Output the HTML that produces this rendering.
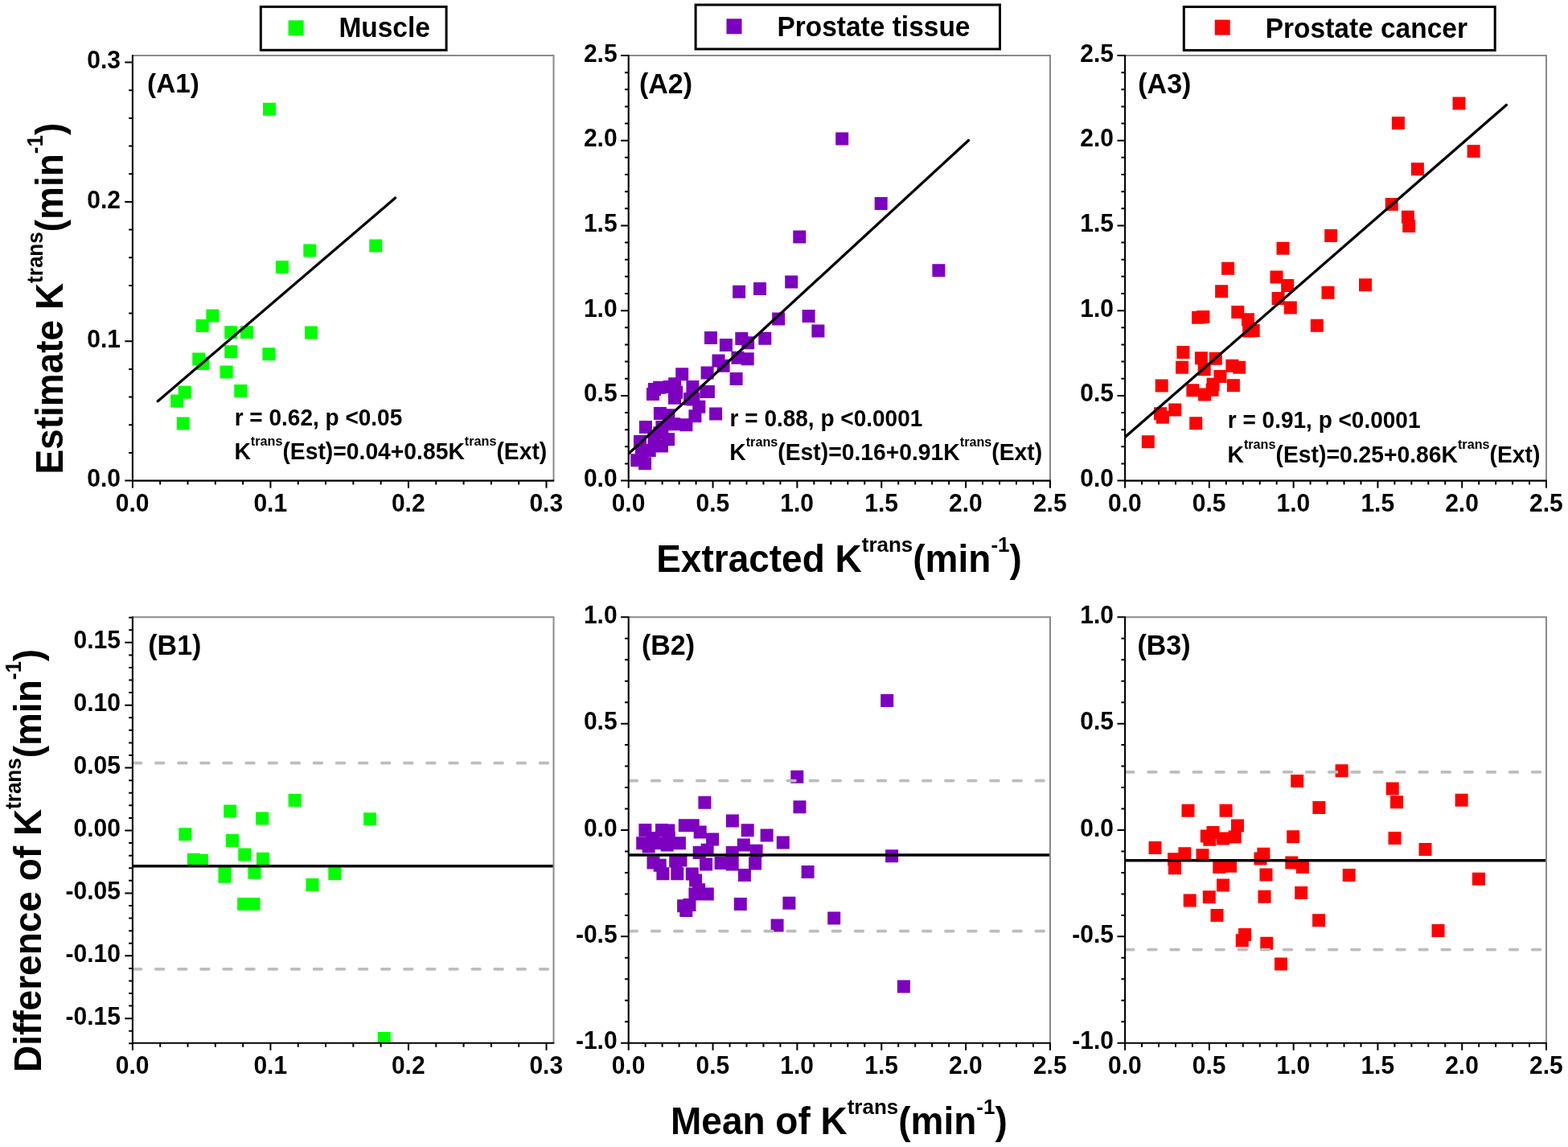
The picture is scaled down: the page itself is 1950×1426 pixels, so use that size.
<!DOCTYPE html>
<html lang="en"><head><meta charset="utf-8"><title>Ktrans correlation and Bland-Altman plots</title>
<style>html,body{margin:0;padding:0;background:#fff}svg{display:block}text{font-family:"Liberation Sans", Arial, sans-serif;font-weight:bold;fill:#000}</style></head><body>
<svg width="1950" height="1426" viewBox="0 0 1950 1426">
<rect width="1950" height="1426" fill="#fff"/>
<g id="A1">
<clipPath id="cA1"><rect x="164.9" y="69" width="523.6" height="528.6"/></clipPath>
<path clip-path="url(#cA1)" d="M327 127.8h16v16h-16zM459.3 297.6h16v16h-16zM377.3 303.6h16v16h-16zM342.9 324.1h16v16h-16zM256.4 384.4h16v16h-16zM243.7 396.9h16v16h-16zM279.2 405.3h16v16h-16zM298.9 404.9h16v16h-16zM378.9 405.5h16v16h-16zM279.2 429.3h16v16h-16zM326.4 432.2h16v16h-16zM239.2 438.4h16v16h-16zM244.1 443.9h16v16h-16zM273.6 454.4h16v16h-16zM291.3 477.9h16v16h-16zM221.7 479.8h16v16h-16zM212.1 490.5h16v16h-16zM219.7 518.6h16v16h-16z" fill="#00ff00"/>
<path clip-path="url(#cA1)" d="M196.3 498.7L491.6 246.1" stroke="#000" stroke-width="3.3" stroke-linecap="round" fill="none"/>
<path d="M164.9 69H688.5V597.6" fill="none" stroke="#8a8a8a" stroke-width="2"/>
<path d="M164.9 597.6h-9.6M164.9 562.93h-4.7M164.9 528.27h-4.7M164.9 493.6h-4.7M164.9 458.94h-4.7M164.9 424.27h-9.6M164.9 389.6h-4.7M164.9 354.94h-4.7M164.9 320.27h-4.7M164.9 285.61h-4.7M164.9 250.94h-9.6M164.9 216.27h-4.7M164.9 181.61h-4.7M164.9 146.94h-4.7M164.9 112.28h-4.7M164.9 77.61h-9.6M164.9 597.6v9.1M199.21 597.6v5M233.51 597.6v5M267.82 597.6v5M302.12 597.6v5M336.43 597.6v9.1M370.74 597.6v5M405.04 597.6v5M439.35 597.6v5M473.65 597.6v5M507.96 597.6v9.1M542.27 597.6v5M576.57 597.6v5M610.88 597.6v5M645.18 597.6v5M679.49 597.6v9.1" fill="none" stroke="#000" stroke-width="2"/>
<path d="M164.9 68.3V597.6H689.2" fill="none" stroke="#000" stroke-width="2.1" stroke-linejoin="miter"/>
<text transform="translate(149.9 605.2) scale(1 1.025)" font-size="30" text-anchor="end">0.0</text>
<text transform="translate(149.9 431.87) scale(1 1.025)" font-size="30" text-anchor="end">0.1</text>
<text transform="translate(149.9 258.54) scale(1 1.025)" font-size="30" text-anchor="end">0.2</text>
<text transform="translate(149.9 85.21) scale(1 1.025)" font-size="30" text-anchor="end">0.3</text>
<text transform="translate(164.7 635.8) scale(1 1.025)" font-size="30" text-anchor="middle">0.0</text>
<text transform="translate(336.23 635.8) scale(1 1.025)" font-size="30" text-anchor="middle">0.1</text>
<text transform="translate(507.76 635.8) scale(1 1.025)" font-size="30" text-anchor="middle">0.2</text>
<text transform="translate(679.29 635.8) scale(1 1.025)" font-size="30" text-anchor="middle">0.3</text>
</g>
<g id="A2">
<clipPath id="cA2"><rect x="781.7" y="69" width="524.3" height="528.6"/></clipPath>
<path clip-path="url(#cA2)" d="M1039.2 164.4h16v16h-16zM1087.7 245h16v16h-16zM986.3 286.6h16v16h-16zM1159.4 328.2h16v16h-16zM976.2 342.5h16v16h-16zM937 351.1h16v16h-16zM911.1 354.7h16v16h-16zM997.6 385h16v16h-16zM960.2 388.6h16v16h-16zM1009.4 403.5h16v16h-16zM876 411.9h16v16h-16zM943.3 412.8h16v16h-16zM914.3 413h16v16h-16zM922.1 418.2h16v16h-16zM894.9 421h16v16h-16zM909.5 436.8h16v16h-16zM921.7 438.2h16v16h-16zM885.5 440.6h16v16h-16zM891.6 446.7h16v16h-16zM871.6 455.5h16v16h-16zM907.6 462.9h16v16h-16zM840.2 457.2h16v16h-16zM804 481.9h16v16h-16zM805.9 476.1h16v16h-16zM812.2 473.7h16v16h-16zM824.6 473h16v16h-16zM831.2 469.2h16v16h-16zM831 486.8h16v16h-16zM833.2 479.8h16v16h-16zM853.4 473h16v16h-16zM872.9 478.9h16v16h-16zM861.3 497.7h16v16h-16zM856.4 509.3h16v16h-16zM850.1 488h16v16h-16zM854.2 488.6h16v16h-16zM882.1 506.6h16v16h-16zM812.9 506.1h16v16h-16zM823.4 508.3h16v16h-16zM845.4 520.2h16v16h-16zM830.2 519.3h16v16h-16zM794.9 523.1h16v16h-16zM812.4 530.2h16v16h-16zM823.1 538.3h16v16h-16zM814.9 546.5h16v16h-16zM788 540.9h16v16h-16zM799.7 551.9h16v16h-16zM794.1 568.3h16v16h-16zM784.2 564.3h16v16h-16zM790 553.9h16v16h-16zM805.6 536.6h16v16h-16zM815.4 523.1h16v16h-16zM870.4 478.9h16v16h-16z" fill="#7d00c0"/>
<path clip-path="url(#cA2)" d="M781.7 564L1204.5 174.5" stroke="#000" stroke-width="3.3" stroke-linecap="round" fill="none"/>
<path d="M781.7 69H1306V597.6" fill="none" stroke="#8a8a8a" stroke-width="2"/>
<path d="M781.7 597.6h-9.6M781.7 576.46h-4.7M781.7 555.31h-4.7M781.7 534.17h-4.7M781.7 513.02h-4.7M781.7 491.88h-9.6M781.7 470.74h-4.7M781.7 449.59h-4.7M781.7 428.45h-4.7M781.7 407.3h-4.7M781.7 386.16h-9.6M781.7 365.02h-4.7M781.7 343.87h-4.7M781.7 322.73h-4.7M781.7 301.58h-4.7M781.7 280.44h-9.6M781.7 259.3h-4.7M781.7 238.15h-4.7M781.7 217.01h-4.7M781.7 195.86h-4.7M781.7 174.72h-9.6M781.7 153.58h-4.7M781.7 132.43h-4.7M781.7 111.29h-4.7M781.7 90.14h-4.7M781.7 69h-9.6M781.7 597.6v9.1M802.67 597.6v5M823.64 597.6v5M844.61 597.6v5M865.58 597.6v5M886.55 597.6v9.1M907.52 597.6v5M928.49 597.6v5M949.46 597.6v5M970.43 597.6v5M991.4 597.6v9.1M1012.37 597.6v5M1033.34 597.6v5M1054.31 597.6v5M1075.28 597.6v5M1096.25 597.6v9.1M1117.22 597.6v5M1138.19 597.6v5M1159.16 597.6v5M1180.13 597.6v5M1201.1 597.6v9.1M1222.07 597.6v5M1243.04 597.6v5M1264.01 597.6v5M1284.98 597.6v5M1305.95 597.6v9.1" fill="none" stroke="#000" stroke-width="2"/>
<path d="M781.7 68.3V597.6H1306.7" fill="none" stroke="#000" stroke-width="2.1" stroke-linejoin="miter"/>
<text transform="translate(767.6 605.2) scale(1 1.025)" font-size="30" text-anchor="end">0.0</text>
<text transform="translate(767.6 499.48) scale(1 1.025)" font-size="30" text-anchor="end">0.5</text>
<text transform="translate(767.6 393.76) scale(1 1.025)" font-size="30" text-anchor="end">1.0</text>
<text transform="translate(767.6 288.04) scale(1 1.025)" font-size="30" text-anchor="end">1.5</text>
<text transform="translate(767.6 182.32) scale(1 1.025)" font-size="30" text-anchor="end">2.0</text>
<text transform="translate(767.6 76.6) scale(1 1.025)" font-size="30" text-anchor="end">2.5</text>
<text transform="translate(781.5 635.8) scale(1 1.025)" font-size="30" text-anchor="middle">0.0</text>
<text transform="translate(886.35 635.8) scale(1 1.025)" font-size="30" text-anchor="middle">0.5</text>
<text transform="translate(991.2 635.8) scale(1 1.025)" font-size="30" text-anchor="middle">1.0</text>
<text transform="translate(1096.05 635.8) scale(1 1.025)" font-size="30" text-anchor="middle">1.5</text>
<text transform="translate(1200.9 635.8) scale(1 1.025)" font-size="30" text-anchor="middle">2.0</text>
<text transform="translate(1305.75 635.8) scale(1 1.025)" font-size="30" text-anchor="middle">2.5</text>
</g>
<g id="A3">
<clipPath id="cA3"><rect x="1399.1" y="69" width="523.9" height="528.6"/></clipPath>
<path clip-path="url(#cA3)" d="M1806.5 120.4h16v16h-16zM1730.9 145h16v16h-16zM1824.6 179.9h16v16h-16zM1754.9 202.2h16v16h-16zM1722.7 246h16v16h-16zM1742.9 261.8h16v16h-16zM1744.2 272.9h16v16h-16zM1647.2 285.1h16v16h-16zM1587.5 300.8h16v16h-16zM1519.1 325.7h16v16h-16zM1579.5 336.6h16v16h-16zM1593.2 347.1h16v16h-16zM1690 346.3h16v16h-16zM1511.1 354.3h16v16h-16zM1643.5 355.8h16v16h-16zM1581.6 363.1h16v16h-16zM1596.8 374.5h16v16h-16zM1531.3 380h16v16h-16zM1482.1 386.7h16v16h-16zM1488.4 386.1h16v16h-16zM1544 389.2h16v16h-16zM1629.8 396.8h16v16h-16zM1545.2 403.5h16v16h-16zM1550.7 402.9h16v16h-16zM1463.4 430h16v16h-16zM1485.9 437.2h16v16h-16zM1503.8 437.8h16v16h-16zM1462.1 448.8h16v16h-16zM1489.7 451.3h16v16h-16zM1524.4 446.7h16v16h-16zM1533.2 448.8h16v16h-16zM1509.5 459.9h16v16h-16zM1436.7 471.5h16v16h-16zM1525.9 471.3h16v16h-16zM1500.6 469.8h16v16h-16zM1475.4 477.2h16v16h-16zM1499.6 476.7h16v16h-16zM1490.1 482.4h16v16h-16zM1453.3 501.4h16v16h-16zM1435 506.2h16v16h-16zM1437.9 510.8h16v16h-16zM1479.2 518.2h16v16h-16zM1419.8 541.3h16v16h-16z" fill="#ff0000"/>
<path clip-path="url(#cA3)" d="M1399.1 543.4L1873.4 130.5" stroke="#000" stroke-width="3.3" stroke-linecap="round" fill="none"/>
<path d="M1399.1 69H1923V597.6" fill="none" stroke="#8a8a8a" stroke-width="2"/>
<path d="M1399.1 597.6h-9.6M1399.1 576.46h-4.7M1399.1 555.31h-4.7M1399.1 534.17h-4.7M1399.1 513.02h-4.7M1399.1 491.88h-9.6M1399.1 470.74h-4.7M1399.1 449.59h-4.7M1399.1 428.45h-4.7M1399.1 407.3h-4.7M1399.1 386.16h-9.6M1399.1 365.02h-4.7M1399.1 343.87h-4.7M1399.1 322.73h-4.7M1399.1 301.58h-4.7M1399.1 280.44h-9.6M1399.1 259.3h-4.7M1399.1 238.15h-4.7M1399.1 217.01h-4.7M1399.1 195.86h-4.7M1399.1 174.72h-9.6M1399.1 153.58h-4.7M1399.1 132.43h-4.7M1399.1 111.29h-4.7M1399.1 90.14h-4.7M1399.1 69h-9.6M1399.1 597.6v9.1M1420.06 597.6v5M1441.01 597.6v5M1461.97 597.6v5M1482.92 597.6v5M1503.88 597.6v9.1M1524.84 597.6v5M1545.79 597.6v5M1566.75 597.6v5M1587.7 597.6v5M1608.66 597.6v9.1M1629.62 597.6v5M1650.57 597.6v5M1671.53 597.6v5M1692.48 597.6v5M1713.44 597.6v9.1M1734.4 597.6v5M1755.35 597.6v5M1776.31 597.6v5M1797.26 597.6v5M1818.22 597.6v9.1M1839.18 597.6v5M1860.13 597.6v5M1881.09 597.6v5M1902.04 597.6v5M1923 597.6v9.1" fill="none" stroke="#000" stroke-width="2"/>
<path d="M1399.1 68.3V597.6H1923.7" fill="none" stroke="#000" stroke-width="2.1" stroke-linejoin="miter"/>
<text transform="translate(1385 605.2) scale(1 1.025)" font-size="30" text-anchor="end">0.0</text>
<text transform="translate(1385 499.48) scale(1 1.025)" font-size="30" text-anchor="end">0.5</text>
<text transform="translate(1385 393.76) scale(1 1.025)" font-size="30" text-anchor="end">1.0</text>
<text transform="translate(1385 288.04) scale(1 1.025)" font-size="30" text-anchor="end">1.5</text>
<text transform="translate(1385 182.32) scale(1 1.025)" font-size="30" text-anchor="end">2.0</text>
<text transform="translate(1385 76.6) scale(1 1.025)" font-size="30" text-anchor="end">2.5</text>
<text transform="translate(1398.9 635.8) scale(1 1.025)" font-size="30" text-anchor="middle">0.0</text>
<text transform="translate(1503.68 635.8) scale(1 1.025)" font-size="30" text-anchor="middle">0.5</text>
<text transform="translate(1608.46 635.8) scale(1 1.025)" font-size="30" text-anchor="middle">1.0</text>
<text transform="translate(1713.24 635.8) scale(1 1.025)" font-size="30" text-anchor="middle">1.5</text>
<text transform="translate(1818.02 635.8) scale(1 1.025)" font-size="30" text-anchor="middle">2.0</text>
<text transform="translate(1922.8 635.8) scale(1 1.025)" font-size="30" text-anchor="middle">2.5</text>
</g>
<g id="B1">
<clipPath id="cB1"><rect x="164.9" y="767.3" width="523.6" height="529.4"/></clipPath>
<path clip-path="url(#cB1)" d="M358.6 986.9h16v16h-16zM278.2 1000.4h16v16h-16zM318.2 1009.4h16v16h-16zM452.1 1010.3h16v16h-16zM222.3 1029.2h16v16h-16zM281 1037h16v16h-16zM296.3 1054.5h16v16h-16zM318.9 1059.7h16v16h-16zM232.8 1060.8h16v16h-16zM242.9 1061.8h16v16h-16zM271.5 1077.8h16v16h-16zM271.5 1081.8h16v16h-16zM308.5 1076.8h16v16h-16zM408.3 1078.2h16v16h-16zM380.5 1091.9h16v16h-16zM295.1 1116.1h16v16h-16zM307.5 1116.1h16v16h-16zM469.8 1282.9h16v16h-16z" fill="#00ff00"/>
<path d="M165.8 948.7H686.5" stroke="#bdbdbd" stroke-width="3.8" stroke-linecap="round" stroke-dasharray="9.6 18.5" fill="none"/>
<path d="M165.8 1204.8H686.5" stroke="#bdbdbd" stroke-width="3.8" stroke-linecap="round" stroke-dasharray="9.6 18.5" fill="none"/>
<path d="M164.9 1076.8H688.5" stroke="#000" stroke-width="3.4" fill="none"/>
<path d="M164.9 767.3H688.5V1296.7" fill="none" stroke="#8a8a8a" stroke-width="2"/>
<path d="M164.9 1297.36h-4.7M164.9 1281.78h-4.7M164.9 1266.2h-9.6M164.9 1250.62h-4.7M164.9 1235.04h-4.7M164.9 1219.46h-4.7M164.9 1203.88h-4.7M164.9 1188.3h-9.6M164.9 1172.72h-4.7M164.9 1157.14h-4.7M164.9 1141.56h-4.7M164.9 1125.98h-4.7M164.9 1110.4h-9.6M164.9 1094.82h-4.7M164.9 1079.24h-4.7M164.9 1063.66h-4.7M164.9 1048.08h-4.7M164.9 1032.5h-9.6M164.9 1016.92h-4.7M164.9 1001.34h-4.7M164.9 985.76h-4.7M164.9 970.18h-4.7M164.9 954.6h-9.6M164.9 939.02h-4.7M164.9 923.44h-4.7M164.9 907.86h-4.7M164.9 892.28h-4.7M164.9 876.7h-9.6M164.9 861.12h-4.7M164.9 845.54h-4.7M164.9 829.96h-4.7M164.9 814.38h-4.7M164.9 798.8h-9.6M164.9 783.22h-4.7M164.9 767.64h-4.7M164.9 1296.7v9.1M199.21 1296.7v5M233.51 1296.7v5M267.82 1296.7v5M302.12 1296.7v5M336.43 1296.7v9.1M370.74 1296.7v5M405.04 1296.7v5M439.35 1296.7v5M473.65 1296.7v5M507.96 1296.7v9.1M542.27 1296.7v5M576.57 1296.7v5M610.88 1296.7v5M645.18 1296.7v5M679.49 1296.7v9.1" fill="none" stroke="#000" stroke-width="2"/>
<path d="M164.9 766.6V1296.7H689.2" fill="none" stroke="#000" stroke-width="2.1" stroke-linejoin="miter"/>
<text transform="translate(149.9 1273.8) scale(1 1.025)" font-size="30" text-anchor="end">-0.15</text>
<text transform="translate(149.9 1195.9) scale(1 1.025)" font-size="30" text-anchor="end">-0.10</text>
<text transform="translate(149.9 1118) scale(1 1.025)" font-size="30" text-anchor="end">-0.05</text>
<text transform="translate(149.9 1040.1) scale(1 1.025)" font-size="30" text-anchor="end">0.00</text>
<text transform="translate(149.9 962.2) scale(1 1.025)" font-size="30" text-anchor="end">0.05</text>
<text transform="translate(149.9 884.3) scale(1 1.025)" font-size="30" text-anchor="end">0.10</text>
<text transform="translate(149.9 806.4) scale(1 1.025)" font-size="30" text-anchor="end">0.15</text>
<text transform="translate(164.7 1334.9) scale(1 1.025)" font-size="30" text-anchor="middle">0.0</text>
<text transform="translate(336.23 1334.9) scale(1 1.025)" font-size="30" text-anchor="middle">0.1</text>
<text transform="translate(507.76 1334.9) scale(1 1.025)" font-size="30" text-anchor="middle">0.2</text>
<text transform="translate(679.29 1334.9) scale(1 1.025)" font-size="30" text-anchor="middle">0.3</text>
</g>
<g id="B2">
<clipPath id="cB2"><rect x="781.7" y="767.3" width="524.3" height="529.4"/></clipPath>
<path clip-path="url(#cB2)" d="M1095.2 863.1h16v16h-16zM983.3 957.8h16v16h-16zM868.4 989.8h16v16h-16zM986.5 995.3h16v16h-16zM902.9 1012.5h16v16h-16zM921.7 1024.3h16v16h-16zM945.6 1030.4h16v16h-16zM965.8 1039.5h16v16h-16zM1101.1 1056.3h16v16h-16zM996.6 1076.1h16v16h-16zM912.8 1116.1h16v16h-16zM973.4 1114.8h16v16h-16zM1029.2 1133.4h16v16h-16zM916.8 1042.4h16v16h-16zM932.6 1049.8h16v16h-16zM902.7 1051.9h16v16h-16zM931.1 1065.6h16v16h-16zM902.7 1066.6h16v16h-16zM888.6 1065.1h16v16h-16zM917.9 1079.9h16v16h-16zM878.1 1035.5h16v16h-16zM862.7 1026.6h16v16h-16zM853.7 1018.2h16v16h-16zM843.8 1018.2h16v16h-16zM871.6 1048.7h16v16h-16zM861.7 1051.9h16v16h-16zM870.1 1066.6h16v16h-16zM794.4 1023.9h16v16h-16zM815 1023.9h16v16h-16zM823.4 1024.5h16v16h-16zM791.2 1040.3h16v16h-16zM798.6 1044.5h16v16h-16zM809.1 1040.3h16v16h-16zM821.7 1042.4h16v16h-16zM836.9 1040.3h16v16h-16zM823.8 1034h16v16h-16zM803.8 1034h16v16h-16zM804.5 1064.5h16v16h-16zM812.7 1067.7h16v16h-16zM816.4 1078.2h16v16h-16zM832.2 1062.4h16v16h-16zM838.5 1061.4h16v16h-16zM834.3 1078.2h16v16h-16zM852.8 1078.6h16v16h-16zM857.1 1086.6h16v16h-16zM861.1 1098.2h16v16h-16zM856.4 1103.4h16v16h-16zM871.8 1103.4h16v16h-16zM842.1 1118.2h16v16h-16zM849.5 1117.1h16v16h-16zM845.3 1124h16v16h-16zM958.6 1142.4h16v16h-16zM1115.9 1218.6h16v16h-16z" fill="#7d00c0"/>
<path d="M782.6 970.6H1304" stroke="#bdbdbd" stroke-width="3.8" stroke-linecap="round" stroke-dasharray="9.6 18.5" fill="none"/>
<path d="M782.6 1157.6H1304" stroke="#bdbdbd" stroke-width="3.8" stroke-linecap="round" stroke-dasharray="9.6 18.5" fill="none"/>
<path d="M781.7 1063H1306" stroke="#000" stroke-width="3.4" fill="none"/>
<path d="M781.7 767.3H1306V1296.7" fill="none" stroke="#8a8a8a" stroke-width="2"/>
<path d="M781.7 1296.7h-9.6M781.7 1270.23h-4.7M781.7 1243.76h-4.7M781.7 1217.29h-4.7M781.7 1190.82h-4.7M781.7 1164.35h-9.6M781.7 1137.88h-4.7M781.7 1111.41h-4.7M781.7 1084.94h-4.7M781.7 1058.47h-4.7M781.7 1032h-9.6M781.7 1005.53h-4.7M781.7 979.06h-4.7M781.7 952.59h-4.7M781.7 926.12h-4.7M781.7 899.65h-9.6M781.7 873.18h-4.7M781.7 846.71h-4.7M781.7 820.24h-4.7M781.7 793.77h-4.7M781.7 767.3h-9.6M781.7 1296.7v9.1M802.67 1296.7v5M823.64 1296.7v5M844.61 1296.7v5M865.58 1296.7v5M886.55 1296.7v9.1M907.52 1296.7v5M928.49 1296.7v5M949.46 1296.7v5M970.43 1296.7v5M991.4 1296.7v9.1M1012.37 1296.7v5M1033.34 1296.7v5M1054.31 1296.7v5M1075.28 1296.7v5M1096.25 1296.7v9.1M1117.22 1296.7v5M1138.19 1296.7v5M1159.16 1296.7v5M1180.13 1296.7v5M1201.1 1296.7v9.1M1222.07 1296.7v5M1243.04 1296.7v5M1264.01 1296.7v5M1284.98 1296.7v5M1305.95 1296.7v9.1" fill="none" stroke="#000" stroke-width="2"/>
<path d="M781.7 766.6V1296.7H1306.7" fill="none" stroke="#000" stroke-width="2.1" stroke-linejoin="miter"/>
<text transform="translate(767.6 1304.3) scale(1 1.025)" font-size="30" text-anchor="end">-1.0</text>
<text transform="translate(767.6 1171.95) scale(1 1.025)" font-size="30" text-anchor="end">-0.5</text>
<text transform="translate(767.6 1039.6) scale(1 1.025)" font-size="30" text-anchor="end">0.0</text>
<text transform="translate(767.6 907.25) scale(1 1.025)" font-size="30" text-anchor="end">0.5</text>
<text transform="translate(767.6 774.9) scale(1 1.025)" font-size="30" text-anchor="end">1.0</text>
<text transform="translate(781.5 1334.9) scale(1 1.025)" font-size="30" text-anchor="middle">0.0</text>
<text transform="translate(886.35 1334.9) scale(1 1.025)" font-size="30" text-anchor="middle">0.5</text>
<text transform="translate(991.2 1334.9) scale(1 1.025)" font-size="30" text-anchor="middle">1.0</text>
<text transform="translate(1096.05 1334.9) scale(1 1.025)" font-size="30" text-anchor="middle">1.5</text>
<text transform="translate(1200.9 1334.9) scale(1 1.025)" font-size="30" text-anchor="middle">2.0</text>
<text transform="translate(1305.75 1334.9) scale(1 1.025)" font-size="30" text-anchor="middle">2.5</text>
</g>
<g id="B3">
<clipPath id="cB3"><rect x="1399.1" y="767.3" width="523.9" height="529.4"/></clipPath>
<path clip-path="url(#cB3)" d="M1660.6 950.2h16v16h-16zM1605.2 963h16v16h-16zM1723.7 972.6h16v16h-16zM1729 989.3h16v16h-16zM1809.6 986.8h16v16h-16zM1632.4 995.9h16v16h-16zM1469.5 999.8h16v16h-16zM1516.6 999.8h16v16h-16zM1531 1018.6h16v16h-16zM1500.5 1026.9h16v16h-16zM1492.8 1031.6h16v16h-16zM1496.4 1035.8h16v16h-16zM1513 1034.4h16v16h-16zM1527.7 1032.5h16v16h-16zM1600.2 1032.2h16v16h-16zM1726.5 1034.1h16v16h-16zM1428.5 1046h16v16h-16zM1764.5 1048h16v16h-16zM1465.4 1053.2h16v16h-16zM1487.5 1055.2h16v16h-16zM1563.4 1053.8h16v16h-16zM1452.1 1060.2h16v16h-16zM1559.5 1059.6h16v16h-16zM1598.3 1064.6h16v16h-16zM1452.9 1071.2h16v16h-16zM1508.3 1069.9h16v16h-16zM1522.1 1068.7h16v16h-16zM1611.9 1069.9h16v16h-16zM1566.5 1079.5h16v16h-16zM1669.7 1080.1h16v16h-16zM1830.9 1084.8h16v16h-16zM1513 1092.6h16v16h-16zM1610.2 1102h16v16h-16zM1495.8 1107.2h16v16h-16zM1564.5 1106.7h16v16h-16zM1471.7 1111.4h16v16h-16zM1505.5 1129.9h16v16h-16zM1632.1 1136.3h16v16h-16zM1780.5 1149.1h16v16h-16zM1540.1 1154h16v16h-16zM1536.8 1161.2h16v16h-16zM1567.3 1164.8h16v16h-16zM1585 1190.6h16v16h-16z" fill="#ff0000"/>
<path d="M1400 959.9H1921" stroke="#bdbdbd" stroke-width="3.8" stroke-linecap="round" stroke-dasharray="9.6 18.5" fill="none"/>
<path d="M1400 1180.6H1921" stroke="#bdbdbd" stroke-width="3.8" stroke-linecap="round" stroke-dasharray="9.6 18.5" fill="none"/>
<path d="M1399.1 1069.8H1923" stroke="#000" stroke-width="3.4" fill="none"/>
<path d="M1399.1 767.3H1923V1296.7" fill="none" stroke="#8a8a8a" stroke-width="2"/>
<path d="M1399.1 1296.7h-9.6M1399.1 1270.23h-4.7M1399.1 1243.76h-4.7M1399.1 1217.29h-4.7M1399.1 1190.82h-4.7M1399.1 1164.35h-9.6M1399.1 1137.88h-4.7M1399.1 1111.41h-4.7M1399.1 1084.94h-4.7M1399.1 1058.47h-4.7M1399.1 1032h-9.6M1399.1 1005.53h-4.7M1399.1 979.06h-4.7M1399.1 952.59h-4.7M1399.1 926.12h-4.7M1399.1 899.65h-9.6M1399.1 873.18h-4.7M1399.1 846.71h-4.7M1399.1 820.24h-4.7M1399.1 793.77h-4.7M1399.1 767.3h-9.6M1399.1 1296.7v9.1M1420.06 1296.7v5M1441.01 1296.7v5M1461.97 1296.7v5M1482.92 1296.7v5M1503.88 1296.7v9.1M1524.84 1296.7v5M1545.79 1296.7v5M1566.75 1296.7v5M1587.7 1296.7v5M1608.66 1296.7v9.1M1629.62 1296.7v5M1650.57 1296.7v5M1671.53 1296.7v5M1692.48 1296.7v5M1713.44 1296.7v9.1M1734.4 1296.7v5M1755.35 1296.7v5M1776.31 1296.7v5M1797.26 1296.7v5M1818.22 1296.7v9.1M1839.18 1296.7v5M1860.13 1296.7v5M1881.09 1296.7v5M1902.04 1296.7v5M1923 1296.7v9.1" fill="none" stroke="#000" stroke-width="2"/>
<path d="M1399.1 766.6V1296.7H1923.7" fill="none" stroke="#000" stroke-width="2.1" stroke-linejoin="miter"/>
<text transform="translate(1385 1304.3) scale(1 1.025)" font-size="30" text-anchor="end">-1.0</text>
<text transform="translate(1385 1171.95) scale(1 1.025)" font-size="30" text-anchor="end">-0.5</text>
<text transform="translate(1385 1039.6) scale(1 1.025)" font-size="30" text-anchor="end">0.0</text>
<text transform="translate(1385 907.25) scale(1 1.025)" font-size="30" text-anchor="end">0.5</text>
<text transform="translate(1385 774.9) scale(1 1.025)" font-size="30" text-anchor="end">1.0</text>
<text transform="translate(1398.9 1334.9) scale(1 1.025)" font-size="30" text-anchor="middle">0.0</text>
<text transform="translate(1503.68 1334.9) scale(1 1.025)" font-size="30" text-anchor="middle">0.5</text>
<text transform="translate(1608.46 1334.9) scale(1 1.025)" font-size="30" text-anchor="middle">1.0</text>
<text transform="translate(1713.24 1334.9) scale(1 1.025)" font-size="30" text-anchor="middle">1.5</text>
<text transform="translate(1818.02 1334.9) scale(1 1.025)" font-size="30" text-anchor="middle">2.0</text>
<text transform="translate(1922.8 1334.9) scale(1 1.025)" font-size="30" text-anchor="middle">2.5</text>
</g>
<text transform="translate(183.1 115.4) scale(1 1.025)" font-size="33.3">(A1)</text>
<text transform="translate(795 115.9) scale(1 1.025)" font-size="34">(A2)</text>
<text transform="translate(1415.3 115.9) scale(1 1.025)" font-size="34">(A3)</text>
<text transform="translate(184.3 813.8) scale(1 1.025)" font-size="34">(B1)</text>
<text transform="translate(798 814) scale(1 1.025)" font-size="34">(B2)</text>
<text transform="translate(1414.5 814) scale(1 1.025)" font-size="34">(B3)</text>
<text transform="translate(291.7 529) scale(1 1.025)" font-size="28.0">r = 0.62, p &lt;0.05</text>
<text transform="translate(291.4 571.4) scale(1 1.025)" font-size="28.3">K<tspan font-size="16.2" dy="-16.59">trans</tspan><tspan font-size="28.3" dy="16.59">(Est)=0.04+0.85K</tspan><tspan font-size="16.2" dy="-16.59">trans</tspan><tspan font-size="28.3" dy="16.59">(Ext)</tspan></text>
<text transform="translate(907.6 530.2) scale(1 1.025)" font-size="28.0">r = 0.88, p &lt;0.0001</text>
<text transform="translate(907.3 572.3) scale(1 1.025)" font-size="28.3">K<tspan font-size="16.2" dy="-16.59">trans</tspan><tspan font-size="28.3" dy="16.59">(Est)=0.16+0.91K</tspan><tspan font-size="16.2" dy="-16.59">trans</tspan><tspan font-size="28.3" dy="16.59">(Ext)</tspan></text>
<text transform="translate(1526.8 532) scale(1 1.025)" font-size="28.0">r = 0.91, p &lt;0.0001</text>
<text transform="translate(1526.5 574.6) scale(1 1.025)" font-size="28.3">K<tspan font-size="16.2" dy="-16.59">trans</tspan><tspan font-size="28.3" dy="16.59">(Est)=0.25+0.86K</tspan><tspan font-size="16.2" dy="-16.59">trans</tspan><tspan font-size="28.3" dy="16.59">(Ext)</tspan></text>
<rect x="324.3" y="8.4" width="230.8" height="53.9" fill="#fff" stroke="#000" stroke-width="3"/>
<rect x="358.6" y="25.3" width="19" height="19" fill="#00ff00"/>
<text transform="translate(421.4 46.3) scale(1 1.025)" font-size="33.5">Muscle</text>
<rect x="865.1" y="6" width="378.4" height="55" fill="#fff" stroke="#000" stroke-width="3"/>
<rect x="903.5" y="23.3" width="19" height="19" fill="#7d00c0"/>
<text transform="translate(966.4 44.9) scale(1 1.025)" font-size="33.5">Prostate tissue</text>
<rect x="1472.3" y="8.5" width="386.9" height="54" fill="#fff" stroke="#000" stroke-width="3"/>
<rect x="1510.7" y="24.6" width="19" height="19" fill="#ff0000"/>
<text transform="translate(1573.7 46.7) scale(1 1.025)" font-size="33.5">Prostate cancer</text>
<text transform="translate(816.2 711.2) scale(1 1.025)" font-size="46">Extracted K<tspan font-size="26" dy="-24.59">trans</tspan><tspan font-size="46" dy="24.59">(min</tspan><tspan font-size="26" dy="-24.59">-1</tspan><tspan font-size="46" dy="24.59">)</tspan></text>
<text transform="translate(834 1409.8) scale(1 1.025)" font-size="46">Mean of K<tspan font-size="26" dy="-24.59">trans</tspan><tspan font-size="46" dy="24.59">(min</tspan><tspan font-size="26" dy="-24.59">-1</tspan><tspan font-size="46" dy="24.59">)</tspan></text>
<text transform="translate(78.2 589.6) rotate(-90) scale(1 1.05)" font-size="46">Estimate K<tspan font-size="26" dy="-24.0">trans</tspan><tspan font-size="46" dy="24.0">(min</tspan><tspan font-size="26" dy="-24.0">-1</tspan><tspan font-size="46" dy="24.0">)</tspan></text>
<text transform="translate(51.3 1333) rotate(-90) scale(1 1.05)" font-size="46">Difference of K<tspan font-size="26" dy="-24.0">trans</tspan><tspan font-size="46" dy="24.0">(min</tspan><tspan font-size="26" dy="-24.0">-1</tspan><tspan font-size="46" dy="24.0">)</tspan></text>
</svg></body></html>
